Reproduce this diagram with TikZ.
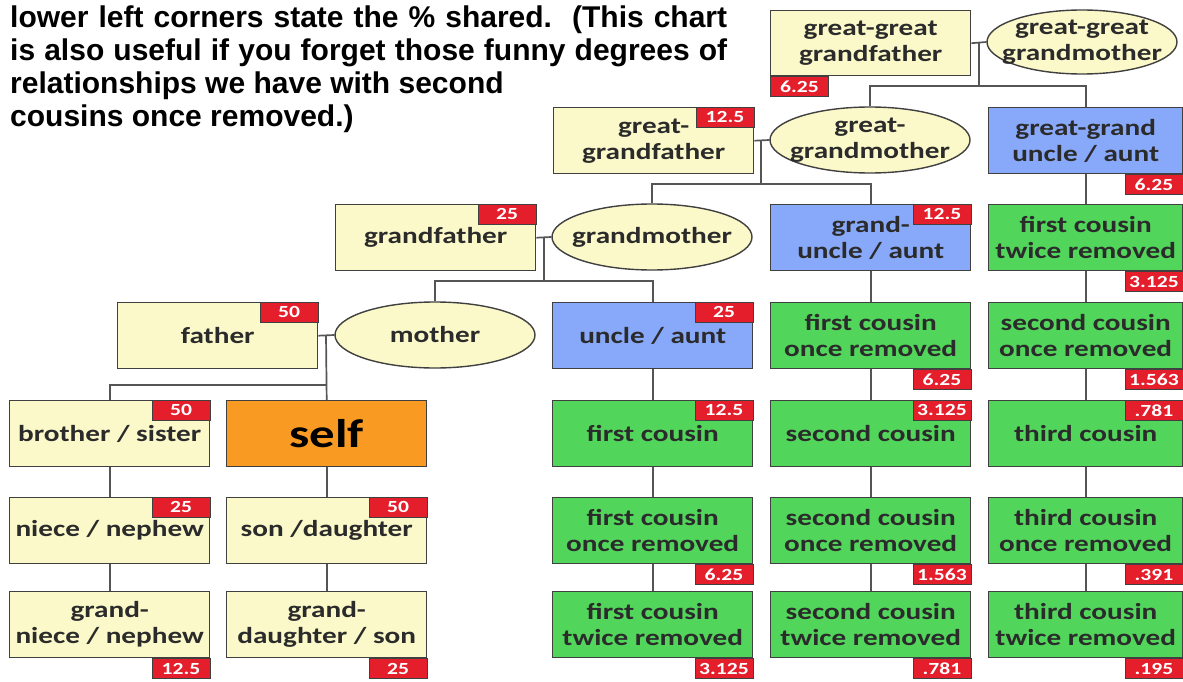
\documentclass[tikz,border=0pt]{standalone}
\usepackage{fontspec}
\setmainfont{Liberation Sans}
\newfontfamily\boxfont[FakeStretch=1.27]{Carlito}
\usetikzlibrary{shapes.geometric,calc}
\definecolor{yel}{HTML}{FBF9C9}
\definecolor{bord}{HTML}{404040}
\definecolor{blu}{HTML}{88A9F9}
\definecolor{grn}{HTML}{52D55B}
\definecolor{org}{HTML}{F99A23}
\definecolor{redl}{HTML}{E41E2B}
\definecolor{conncol}{HTML}{555555}
\definecolor{txt}{HTML}{2B2B2B}
\begin{document}
\begin{tikzpicture}[x=1pt,y=-1pt,
  box/.style={rectangle, draw=bord, line width=1.4pt, minimum width=200pt, minimum height=66pt,
    inner sep=0pt, align=center, text=txt, anchor=north west,
    font=\boxfont\bfseries\fontsize{23}{26}\selectfont},
  ybox/.style={box, fill=yel},
  bbox/.style={box, fill=blu},
  gbox/.style={box, fill=grn},
  ebox/.style={gbox, minimum width=194pt},
  ell/.style={ellipse, draw=bord, line width=1.4pt, fill=yel, minimum width=200pt, minimum height=66pt,
    inner xsep=-22pt, inner ysep=-5pt, align=center, text=txt,
    font=\boxfont\bfseries\fontsize{23}{26}\selectfont},
  lab/.style={rectangle, fill=redl, draw=bord, line width=0.8pt, minimum width=58pt, minimum height=20pt,
    inner sep=0pt, text=white, anchor=north east, font=\boxfont\bfseries\fontsize{17}{17}\selectfont},
  conn/.style={draw=conncol, line width=1.7pt},
  title/.style={anchor=base west, inner sep=0pt, font=\bfseries\fontsize{30}{33}\selectfont}
]
\useasboundingbox (0,0) rectangle (1183,682);

% ---- title text ----
\node[title] (t1) at (10,28) {\makebox[717pt][s]{lower left corners state the \% shared.\ \ (This chart}};
\node[title] (t2) at (10,61) {\makebox[717pt][s]{is also useful if you forget those funny degrees of}};
\node[title] (t3) at (10,94) {relationships we have with second};
\node[title] (t4) at (10,127) {cousins once removed.)};

% ---- junction points ----
\coordinate (j0) at (979,42);   \coordinate (b0) at (979,86);
\coordinate (j1) at (761,140);  \coordinate (b1) at (761,184);
\coordinate (j2) at (544,237);  \coordinate (b2) at (544,281);
\coordinate (j3) at (326,335);  \coordinate (b3) at (326,385);

% ---- row 0 ----
\node[ybox, minimum height=65pt] (ggf) at (770,10) {great-great\\grandfather};
\node[ell, minimum width=190pt, minimum height=64pt] (ggm) at (1082,42) {great-great\\grandmother};

% ---- row 1 ----
\node[ybox] (ggfa) at (553,107) {great-\\grandfather};
\node[ell] (ggmo) at (870,140) {great-\\grandmother};
\node[bbox, minimum width=194pt] (ggu) at (988,107) {great-grand\\uncle / aunt};

% ---- row 2 ----
\node[ybox] (gf) at (335,204) {grandfather};
\node[ell] (gm) at (652,237) {grandmother};
\node[bbox] (gu) at (770,204) {grand-\\uncle / aunt};
\node[ebox] (e2) at (988,204) {first cousin\\twice removed};

% ---- row 3 ----
\node[ybox] (fa) at (117,302) {father};
\node[ell] (mo) at (435,335) {mother};
\node[bbox] (ua) at (552,302) {uncle / aunt};
\node[gbox] (d3) at (770,302) {first cousin\\once removed};
\node[ebox] (e3) at (988,302) {second cousin\\once removed};

% ---- row 4 ----
\node[ybox] (bs) at (9,400) {brother / sister};
\node[box, fill=org, text=black, font=\boxfont\bfseries\fontsize{40}{42}\selectfont] (self) at (226,400) {self};
\node[gbox] (fc) at (552,400) {first cousin};
\node[gbox] (sc) at (770,400) {second cousin};
\node[ebox] (tc) at (988,400) {third cousin};

% ---- row 5 ----
\node[ybox] (nn) at (9,497) {niece / nephew};
\node[ybox] (sd) at (226,497) {son /daughter};
\node[gbox] (fc1) at (552,497) {first cousin\\once removed};
\node[gbox] (sc1) at (770,497) {second cousin\\once removed};
\node[ebox] (tc1) at (988,497) {third cousin\\once removed};

% ---- row 6 ----
\node[ybox] (gn) at (9,591) {grand-\\niece / nephew};
\node[ybox] (gd) at (226,591) {grand-\\daughter / son};
\node[gbox] (fc2) at (552,591) {first cousin\\twice removed};
\node[gbox] (sc2) at (770,591) {second cousin\\twice removed};
\node[ebox] (tc2) at (988,591) {third cousin\\twice removed};

% ---- connectors ----
\draw[conn] (ggf.east) -- (ggm.west);
\draw[conn] (j0) -- (b0);
\draw[conn] (ggmo.north) |- (b0) -| (ggu.north);

\draw[conn] (ggfa.east) -- (ggmo.west);
\draw[conn] (j1) -- (b1);
\draw[conn] (gm.north) |- (b1) -| (gu.north);

\draw[conn] (gf.east) -- (gm.west);
\draw[conn] (j2) -- (b2);
\draw[conn] (mo.north) |- (b2) -| (ua.north);

\draw[conn] (fa.east) -- (mo.west);
\draw[conn] (j3) -- (self.north);
\draw[conn] (bs.north) |- (b3);

\draw[conn] (bs.south) -- (nn.north);
\draw[conn] (nn.south) -- (gn.north);
\draw[conn] (self.south) -- (sd.north);
\draw[conn] (sd.south) -- (gd.north);
\draw[conn] (ua.south) -- (fc.north);
\draw[conn] (fc.south) -- (fc1.north);
\draw[conn] (fc1.south) -- (fc2.north);
\draw[conn] (gu.south) -- (d3.north);
\draw[conn] (d3.south) -- (sc.north);
\draw[conn] (sc.south) -- (sc1.north);
\draw[conn] (sc1.south) -- (sc2.north);
\draw[conn] (ggu.south) -- (e2.north);
\draw[conn] (e2.south) -- (e3.north);
\draw[conn] (e3.south) -- (tc.north);
\draw[conn] (tc.south) -- (tc1.north);
\draw[conn] (tc1.south) -- (tc2.north);

% ---- red percentage labels ----
\node[lab, anchor=north west] (lggf) at (ggf.south west) {6.25};
\node[lab] (lggfa) at (ggfa.north east) {12.5};
\node[lab] (lggu) at (ggu.south east) {6.25};
\node[lab] (lgf) at (gf.north east) {25};
\node[lab] (lgu) at (gu.north east) {12.5};
\node[lab] (le2) at (e2.south east) {3.125};
\node[lab] (lfa) at (fa.north east) {50};
\node[lab] (lua) at (ua.north east) {25};
\node[lab] (ld3) at (d3.south east) {6.25};
\node[lab] (le3) at (e3.south east) {1.563};
\node[lab] (lbs) at (bs.north east) {50};
\node[lab] (lfc) at (fc.north east) {12.5};
\node[lab] (lsc) at (sc.north east) {3.125};
\node[lab] (ltc) at (tc.north east) {.781};
\node[lab] (lnn) at (nn.north east) {25};
\node[lab] (lsd) at (sd.north east) {50};
\node[lab] (lfc1) at (fc1.south east) {6.25};
\node[lab] (lsc1) at (sc1.south east) {1.563};
\node[lab] (ltc1) at (tc1.south east) {.391};
\node[lab] (lgn) at (gn.south east) {12.5};
\node[lab] (lgd) at (gd.south east) {25};
\node[lab] (lfc2) at (fc2.south east) {3.125};
\node[lab] (lsc2) at (sc2.south east) {.781};
\node[lab] (ltc2) at (tc2.south east) {.195};
\end{tikzpicture}
\end{document}
